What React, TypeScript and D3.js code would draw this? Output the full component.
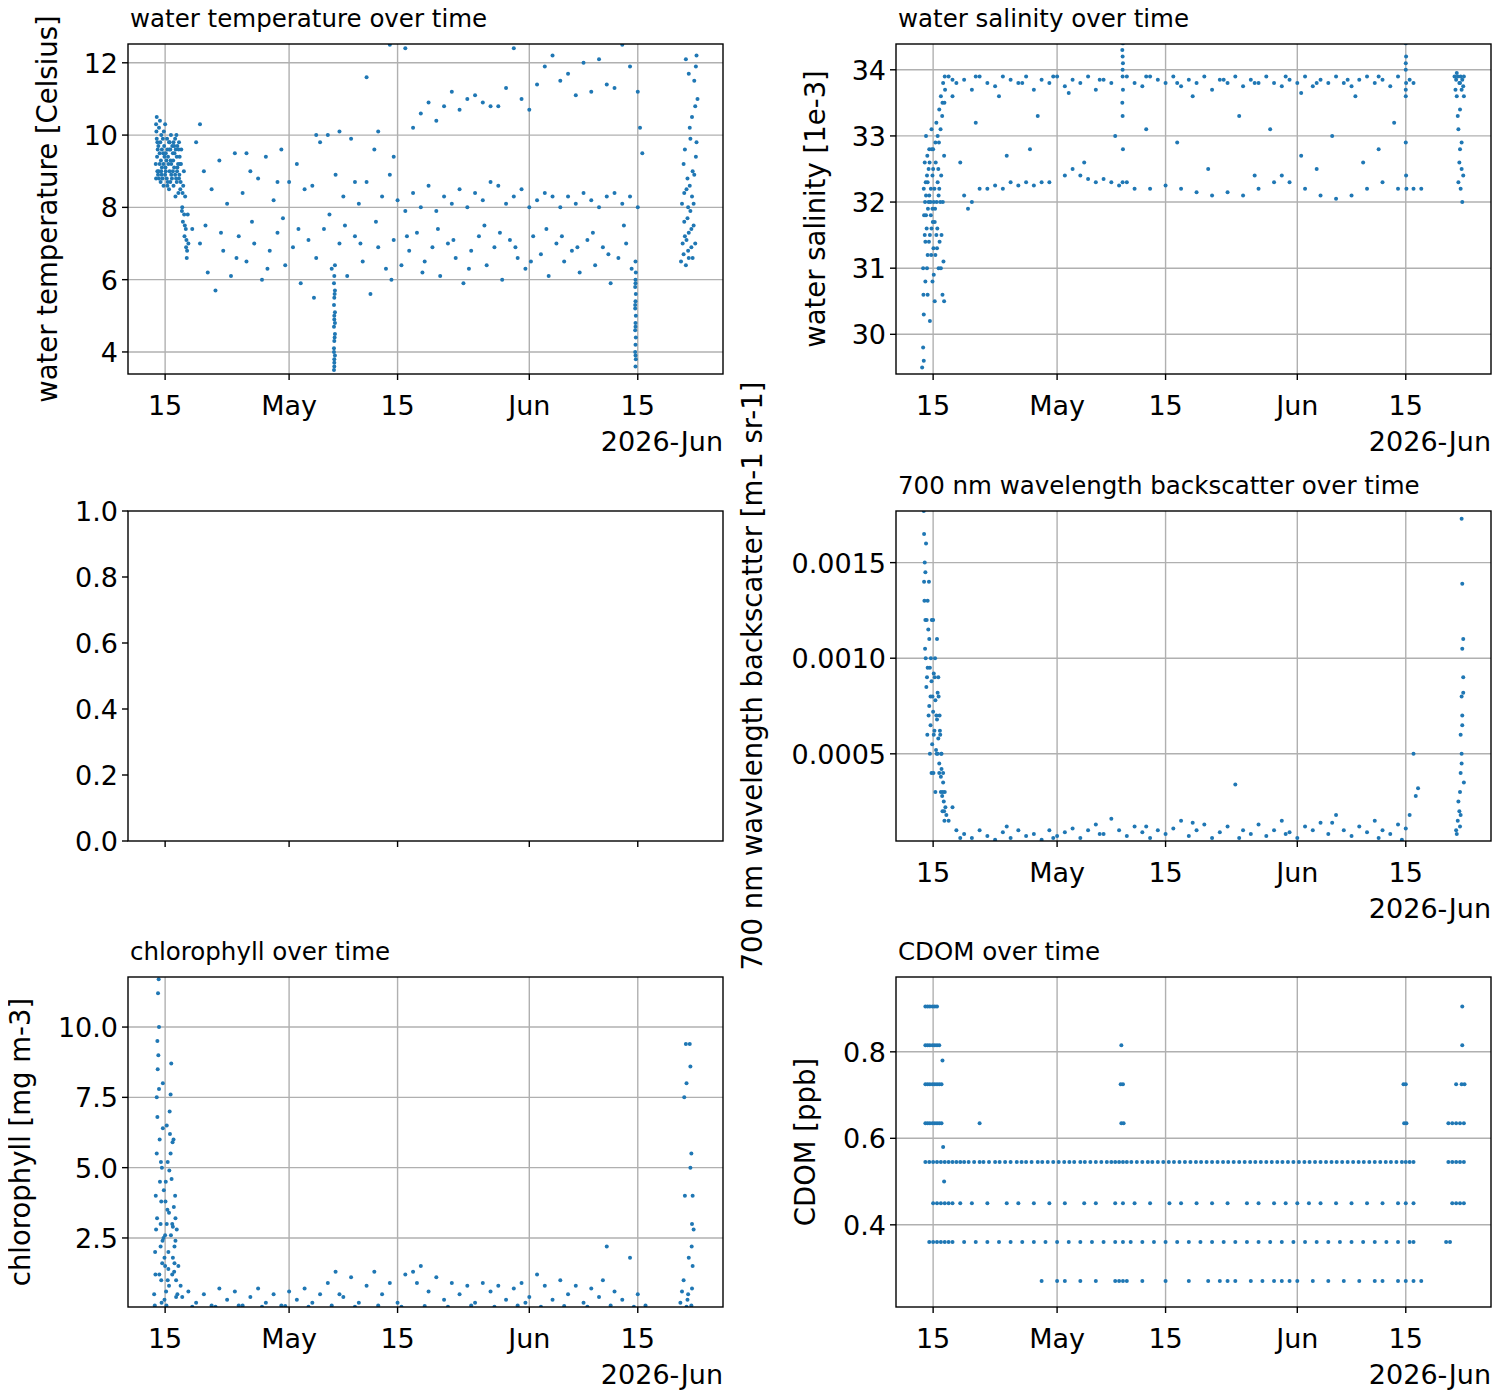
import React from "react";
import * as d3 from "d3";

type P = [number, number];
// x values: days since 2026-04-01
const tempCluster: P[] = [[12.8,9.2],[12.9,10.5],[13,9.8],[13.05,9.6],[13.1,8.9],[13.2,10.2],[13.3,9.5],[13.4,8.7],[13.45,9.3],[13.5,10.0],[13.6,9.1],[13.7,9.9],[13.8,8.6],[13.85,10.1],[13.9,9.4],[14,10.3],[14.1,9.0],[14.2,8.8],[14.25,9.9],[14.3,9.6],[14.4,9.2],[14.5,8.5],[14.6,9.8],[14.65,8.7],[14.7,9.3],[14.8,8.9],[14.9,9.7],[15,9.0],[15.05,9.3],[15.1,8.6],[15.2,9.5],[15.3,9.9],[15.4,8.8],[15.45,10.0],[15.5,9.4],[15.6,9.1],[15.7,8.4],[15.8,9.8],[15.85,8.9],[15.9,9.2],[16,8.7],[16.1,9.6],[16.2,8.0],[16.3,7.6],[16.4,9.0],[16.5,7.2],[16.6,8.3],[16.7,6.9],[16.8,6.6],[16.9,7.8],[17,7.0],[12.85,8.8],[13.15,9.0],[13.35,10.4],[13.55,8.9],[13.75,9.5],[14.05,9.1],[14.35,8.7],[14.55,9.6],[14.75,10.0],[15.15,9.7],[15.35,8.3],[15.55,9.0],[15.75,9.6],[15.95,8.5],[16.15,7.9],[16.35,8.6],[16.55,7.5],
  [12.82,10.3],[12.88,10.1],[12.92,9.9],[12.95,9.4],[13.02,9.0],[13.12,9.7],[13.22,8.8],[13.28,9.2],[13.38,9.8],[13.48,9.0],[13.58,9.6],[13.68,8.8],[13.78,9.2],[13.88,9.7],[13.98,8.9],[14.08,9.5],[14.18,9.3],[14.28,8.6],[14.38,9.4],[14.48,9.8],[14.58,9.0],[14.68,9.6],[14.78,9.2],[14.88,8.8],[14.98,9.5],[15.08,9.8],[15.18,9.1],[15.28,8.9],[15.38,9.6],[15.48,8.7],[15.58,9.7],[15.68,9.2],[15.78,8.8],[15.88,9.4],[16.05,9.2],[16.25,8.4],[16.45,7.8],[16.65,7.4],[16.75,7.1],[16.85,6.8]];
const tempUpper: P[] = [[18,9.8],[19,9.0],[20,8.5],[21,9.3],[22,8.1],[23,9.5],[24,8.4],[25,9.0],[26,8.8],[27,9.4],[28,8.2],[29,9.6],[30,8.7],[31,9.2],[32,8.5],[33,8.6],[34,9.8],[35,10.0],[36,8.9],[37,8.3],[38,9.9],[39,8.1],[40,8.7],[41,9.6],[42,8.3],[43,8.9],[44,8.2],[45,7.9],[46,8.4],[47,8.0],[48,8.6],[49,7.9],[50,8.3],[51,8.1],[52,8.5],[53,8.0],[54,8.4],[55,8.2],[56,8.7],[57,8.6],[58,8.1],[59,8.3],[60,8.5],[61,8.0],[62,8.2],[63,8.4],[64,8.3],[65,8.0],[66,8.3],[67,8.1],[68,8.4],[69,8.2],[70,8.0],[71,8.3],[72,8.4],[73,8.1],[74,8.3],[75,8.0],[18.5,10.3],[24.5,9.5],[28.5,8.7],[33.5,10.0],[36.5,10.1],[38.5,8.7]];
const tempLower: P[] = [[17.5,7.4],[18.5,7.0],[19.5,6.2],[20.5,5.7],[21.5,6.8],[22.5,6.1],[23.5,7.2],[24.5,6.5],[25.5,7.0],[26.5,6.0],[27.5,6.8],[28.5,7.3],[29.5,6.4],[30.5,6.9],[31.5,5.9],[32.5,7.1],[33.5,6.6],[34.5,7.4],[35.5,6.3],[36.5,7.0],[37.5,6.1],[38.5,7.2],[39.5,6.5],[40.5,5.6],[41.5,6.9],[42.5,6.3],[43.5,7.1],[44.5,6.4],[45.5,6.8],[46.5,7.3],[47.5,6.5],[48.5,6.9],[49.5,6.1],[50.5,7.0],[51.5,6.6],[52.5,5.9],[53.5,6.8],[54.5,7.2],[55.5,6.4],[56.5,6.9],[57.5,6.0],[58.5,7.1],[59.5,6.6],[60.5,6.3],[61.5,7.2],[62.5,6.7],[63.5,6.1],[64.5,7.0],[65.5,6.5],[66.5,6.8],[67.5,6.2],[68.5,7.1],[69.5,6.4],[70.5,6.9],[71.5,5.9],[72.5,6.6],[73.5,7.0],[74.2,6.3],[19.2,7.5],[21.2,7.3],[23.2,6.6],[25.2,7.6],[27.2,6.3],[29.2,7.7],[31.2,7.4],[33.2,5.5],[35.2,7.8],[37.2,7.5],[39.2,7.0],[41.2,7.6],[43.2,6.0],[45.2,7.2],[47.2,6.2],[49.2,7.4],[51.2,7.1],[53.2,6.3],[55.2,7.5],[57.2,7.3],[59.2,6.9],[61.2,6.5],[63.2,7.4],[65.2,7.2],[67.2,6.9],[69.2,7.3],[71.2,6.7],[73.2,7.5]];
const tempHigh: P[] = [[40,11.6],[43,12.5],[45,12.4],[46,10.2],[47,10.6],[48,10.9],[49,10.4],[50,10.8],[51,11.2],[52,10.7],[53,11.0],[54,11.1],[55,10.9],[56,10.8],[57,10.8],[58,11.3],[59,12.4],[60,11.0],[61,10.7],[62,11.4],[63,11.9],[64,12.2],[65,11.5],[66,11.7],[67,11.1],[68,12.0],[69,11.2],[70,12.1],[71,11.4],[72,11.3],[73,12.5],[74,11.9],[75,11.2],[43.5,9.4],[41.5,10.1]];
const tempStreaks: P[] = [[35.8,3.5],[35.85,3.7],[35.9,3.9],[35.8,4.1],[35.85,4.3],[35.9,4.5],[35.8,4.7],[35.85,4.9],[35.9,5.1],[35.8,5.3],[35.85,5.5],[35.9,5.7],[35.8,5.9],[35.85,6.1],[35.9,6.4],[35.85,3.6],[35.8,4.0],[35.9,4.8],[35.82,3.8],[35.88,4.4],[35.83,5.0],[35.87,5.6],[74.7,3.6],[74.75,3.8],[74.65,4.0],[74.7,4.2],[74.75,4.4],[74.65,4.6],[74.7,4.8],[74.75,5.0],[74.65,5.2],[74.7,5.4],[74.75,5.6],[74.65,5.8],[74.7,6.0],[74.75,6.2],[74.7,6.5],[74.7,3.9],[74.72,4.7],[74.68,5.3],[74.72,5.9],[75.3,10.2],[75.6,9.5]];
const tempFinal: P[] = [[80.6,6.5],[80.8,7.0],[81.0,7.6],[81.2,6.4],[80.7,8.1],[81.3,8.5],[81.5,6.8],[80.9,9.2],[81.6,7.3],[81.4,8.8],[81.8,7.9],[82.0,8.3],[81.1,9.6],[81.7,10.2],[82.1,9.0],[81.9,6.9],[82.2,7.5],[82.4,10.8],[82.3,11.5],[82.6,12.2],[82.5,11.9],[81.6,11.7],[81.2,12.1],[82.0,10.5],[82.5,9.4],[82.2,8.1],[80.9,6.7],[81.5,8.0],[82.4,7.0],[81.8,9.9],[82.7,11.0],[81.3,7.1],[82.1,6.6],[81.0,8.4],[82.6,9.8],[81.4,7.7],[81.7,8.6],[81.9,7.4],[82.3,8.9],[81.6,6.6],[81.1,7.2]];

const salCluster: P[] = [[12.6,29.5],[12.7,29.8],[12.8,30.3],[12.7,31.0],[12.9,31.5],[12.8,32.2],[12.9,32.6],[13,30.8],[13.1,31.8],[13.2,32.4],[13.1,33.0],[13.3,31.2],[13.4,32.0],[13.5,32.8],[13.3,30.6],[13.6,31.5],[13.7,32.2],[13.8,33.1],[13.9,31.9],[14,32.5],[14.1,30.9],[14.2,31.7],[14.3,32.9],[14.4,33.2],[14.5,31.3],[14.6,32.3],[14.7,31.0],[14.8,33.4],[14.9,32.0],[15,33.6],[15.1,31.5],[15.2,30.6],[15.3,33.8],[15.4,32.7],[15.5,33.9],[15.2,33.5],[12.8,29.6],[13.0,31.4],[13.2,31.0],[13.4,32.5],[13.6,30.2],[13.8,31.6],[14.0,32.8],[14.2,30.5],[14.4,31.5],[14.6,33.0],[14.8,32.2],[15.0,31.0],[15.4,30.5],[13.5,32.1],[13.9,32.4],[14.3,31.2],
  [12.75,30.6],[12.85,31.8],[12.95,32.0],[13.05,32.3],[13.15,31.6],[13.25,32.7],[13.35,31.9],[13.45,31.4],[13.55,32.6],[13.65,32.0],[13.75,31.2],[13.85,32.8],[13.95,31.7],[14.05,31.3],[14.15,32.2],[14.25,31.9],[14.35,32.6],[14.45,32.0],[14.55,31.6],[14.65,32.5],[14.75,32.9],[14.85,31.4],[14.95,33.1],[15.05,32.4],[15.15,33.3],[15.25,32.0],[15.35,31.1],[15.45,33.5],[15.55,33.7],[13.1,32.1],[13.7,31.8],[14.1,32.0],[14.7,32.1],[13.3,32.3],[13.9,30.8]];
const salUpper: P[] = [[16,33.9],[17,33.8],[18,33.85],[19,33.7],[20,33.9],[21,33.8],[22,33.75],[23,33.9],[24,33.85],[25,33.8],[26,33.9],[27,33.7],[28,33.85],[29,33.8],[30,33.9],[31,33.75],[32,33.85],[33,33.8],[34,33.9],[35,33.7],[36,33.85],[37,33.8],[39,33.9],[40,33.8],[41,33.75],[42,33.9],[43,33.85],[44,33.8],[45,33.9],[46,33.75],[47,33.85],[48,33.8],[49,33.9],[50,33.7],[51,33.85],[52,33.8],[53,33.9],[54,33.75],[55,33.85],[56,33.8],[57,33.9],[58,33.8],[59,33.75],[60,33.85],[61,33.8],[62,33.9],[63,33.75],[64,33.85],[65,33.8],[66,33.9],[67,33.8],[68,33.75],[69,33.85],[70,33.9],[71,33.8],[72,33.85],[73,33.75],[74,33.9],[76,33.8],[16.5,33.6],[22.5,33.6],[31.5,33.65],[47.5,33.6],[61.5,33.65],[68.5,33.6],[16.5,33.85],[19.5,33.9],[25.5,33.8],[29.5,33.9],[35.5,33.85],[41.5,33.9],[45.5,33.8],[51.5,33.85],[55.5,33.8],[59.5,33.9],[63.5,33.8],[67.5,33.85],[71.5,33.9],[75.5,33.85]];
const salLower: P[] = [[18,32.1],[18.5,31.9],[19,32.0],[20,32.2],[21,32.2],[22,32.25],[23,32.2],[24,32.3],[25,32.25],[26,32.3],[27,32.25],[28,32.3],[29,32.3],[31,32.4],[32,32.5],[33,32.4],[34,32.35],[35,32.3],[36,32.35],[37,32.3],[38,32.25],[39,32.3],[40,32.2],[42,32.2],[44,32.25],[46,32.2],[48,32.15],[50,32.1],[52,32.15],[54,32.1],[56,32.2],[58,32.3],[59,32.4],[60,32.3],[62,32.2],[64,32.1],[66,32.05],[68,32.1],[70,32.2],[72,32.3],[74,32.2],[76,32.2],[77,32.2],[19.5,33.2],[23.5,32.7],[27.5,33.3],[33.5,32.6],[37.5,33.0],[41.5,33.1],[45.5,32.9],[49.5,32.5],[53.5,33.3],[57.5,33.1],[61.5,32.7],[65.5,33.0],[69.5,32.6],[73.5,33.2],[17.5,32.6],[26.5,32.8],[55.5,32.4],[63.5,32.5],[71.5,32.8]];
const salSpikes: P[] = [[38.4,33.5],[38.5,33.7],[38.45,33.9],[38.5,34.1],[38.4,34.3],[38.5,34.4],[38.45,33.3],[38.5,32.8],[38.45,32.3],[38.45,34.0],[38.45,34.2],[75,33.6],[75.05,33.8],[75,34.0],[75.05,34.2],[75,34.4],[75,32.9],[75.05,32.4],[75.1,32.2],[75,33.7],[75.02,34.1]];
const salFinal: P[] = [[81.3,33.9],[81.5,33.85],[81.7,33.9],[81.9,33.8],[82.1,33.9],[82.3,33.85],[82.5,33.9],[81.6,33.6],[82.0,33.4],[81.8,33.1],[82.2,32.9],[81.9,32.6],[82.4,32.4],[82.1,32.2],[82.3,32.0],[81.7,33.3],[82.0,32.8],[82.5,33.6],[81.4,33.7],[82.2,33.7],[81.6,33.95],[82.0,33.8],[82.4,33.75],[81.8,32.3],[82.2,32.5]];

const bsCluster: P[] = [[12.8,0.00177],[12.9,0.0015],[13,0.0012],[13.1,0.0016],[13.2,0.0009],[13.3,0.0013],[13.4,0.0007],[13.5,0.0011],[13.6,0.0005],[13.7,0.0010],[13.8,0.0004],[13.9,0.0008],[14,0.0012],[14.1,0.0006],[14.2,0.0009],[14.3,0.0003],[14.4,0.0007],[14.5,0.0011],[14.6,0.0005],[14.7,0.0008],[14.8,0.0004],[14.9,0.0006],[15,0.0003],[15.1,0.0005],[15.2,0.0002],[15.3,0.0004],[15.4,0.0002],[15.5,0.0003],[12.85,0.0014],[13.05,0.0010],[13.25,0.0006],[13.45,0.0014],[13.65,0.0008],[13.85,0.0012],[14.05,0.0004],[14.25,0.0010],[14.45,0.0005],[14.65,0.0009],[14.85,0.0007],[15.05,0.0005],[15.25,0.0003],[15.45,0.00015],[16,0.00015],[16.5,0.00022],
  [12.82,0.00165],[12.88,0.0013],[12.95,0.00105],[13.02,0.00145],[13.12,0.00085],[13.18,0.0012],[13.28,0.00095],[13.38,0.00115],[13.48,0.00075],[13.58,0.00095],[13.68,0.00065],[13.78,0.00088],[13.88,0.00055],[13.98,0.00072],[14.08,0.00092],[14.18,0.00062],[14.28,0.00078],[14.38,0.00052],[14.48,0.00068],[14.58,0.00082],[14.68,0.00058],[14.78,0.00045],[14.88,0.00062],[14.98,0.00038],[15.08,0.00042],[15.18,0.00028],[15.28,0.00035],[15.38,0.00025],[15.58,0.00022],[15.7,0.00018]];
const bsLow: P[] = [[17,0.0001],[18,0.00008],[19,0.00006],[20,0.0001],[21,0.00007],[22,0.00005],[23,0.00009],[24,0.00006],[25,0.0001],[26,0.00007],[27,0.00008],[28,0.00005],[29,0.0001],[30,0.00007],[31,0.00009],[32,0.00011],[33,0.00006],[34,0.0001],[35,0.00013],[36,0.00008],[37,0.00016],[38,0.0001],[39,0.00007],[40,0.00012],[41,0.00009],[42,0.00006],[43,0.0001],[44,0.00008],[45,0.00011],[46,0.00015],[47,0.00007],[48,0.0001],[49,0.00013],[50,0.00006],[51,0.00009],[52,0.00012],[53,0.00034],[54,0.0001],[55,0.00008],[56,0.00013],[57,0.00007],[58,0.0001],[59,0.00015],[60,0.00009],[61,0.00006],[62,0.00012],[63,0.0001],[64,0.00014],[65,0.00008],[66,0.00018],[67,0.0001],[68,0.00007],[69,0.00012],[70,0.00009],[71,0.00015],[72,0.0001],[73,0.00008],[74,0.00013],[75,0.00011],[75.5,0.00018],[76,0.0005],[76.3,0.00028],[76.6,0.00032],[17.5,0.00006],[23.5,0.00012],[29.5,0.00006],[35.5,0.00008],[41.5,0.00012],[47.5,0.00014],[53.5,0.00006],[59.5,0.00008],[65.5,0.00014],[71.5,0.00006],[74.5,0.00005]];
const bsFinal: P[] = [[81.5,0.0001],[81.7,0.00015],[81.9,0.0002],[82.0,0.0003],[82.1,0.0004],[82.2,0.0005],[82.1,0.0006],[82.3,0.0007],[82.2,0.0008],[82.4,0.0009],[82.3,0.00105],[82.4,0.0011],[82.3,0.00139],[82.2,0.00173],[81.8,0.00025],[82.0,0.00012],[82.5,0.00035],[81.6,0.00008],[82.1,0.00018],[82.3,0.00065],[82.2,0.00045],[82.4,0.00082]];

const chlCluster: P[] = [[12.6,0.5],[12.7,2.0],[12.8,4.0],[12.9,7.5],[13,9.5],[13.1,11.2],[13.2,10.0],[13.3,6.0],[13.4,3.0],[13.5,1.0],[13.6,5.0],[13.7,8.0],[13.8,2.5],[13.9,0.3],[14,1.5],[14.1,4.5],[14.2,6.5],[14.3,3.5],[14.4,2.0],[14.5,0.8],[14.6,7.0],[14.7,5.5],[14.8,8.7],[14.9,3.0],[15,1.8],[15.1,6.0],[15.2,2.2],[15.3,4.0],[15.4,1.0],[15.5,2.8],[15.6,0.5],[15.7,1.5],[16,0.8],[16.2,0.4],[13.15,11.7],[13.05,8.5],[12.95,3.2],[13.25,1.2],[13.45,5.2],[13.65,2.4],[14.05,3.8],[14.35,1.0],[14.55,4.9],[14.75,2.6],[14.95,5.9],[15.15,1.3],[15.35,3.2],[12.65,0.1],[13.55,0.2],[14.15,0.1],
  [12.75,1.2],[12.85,2.8],[12.92,5.5],[13.02,6.8],[13.12,9.0],[13.22,7.8],[13.32,4.5],[13.42,2.2],[13.52,3.8],[13.62,1.6],[13.72,6.4],[13.82,4.2],[13.92,1.8],[14.02,2.6],[14.12,0.6],[14.22,3.0],[14.32,5.2],[14.42,1.4],[14.52,3.4],[14.62,6.2],[14.72,7.6],[14.82,4.6],[14.92,1.2],[15.02,2.9],[15.12,3.6],[15.22,1.6],[15.32,2.4],[15.42,0.4]];
const chlLow: P[] = [[17,0.6],[18,0.2],[19,0.5],[20,0.1],[21,0.7],[22,0.3],[23,0.6],[24,0.1],[25,0.4],[26,0.7],[27,0.2],[28,0.5],[29,0.1],[30,0.6],[31,0.3],[32,0.7],[33,0.2],[34,0.5],[35,0.9],[36,1.3],[37,0.4],[38,1.1],[39,0.2],[40,0.8],[41,1.3],[42,0.5],[43,0.9],[44,0.2],[45,1.2],[46,1.3],[47,1.5],[48,0.6],[49,1.1],[50,0.3],[51,0.9],[52,0.5],[53,0.8],[54,0.2],[55,0.9],[56,0.6],[57,0.8],[58,0.3],[59,0.7],[60,0.9],[61,0.4],[62,1.2],[63,0.8],[64,0.3],[65,1.0],[66,0.5],[67,0.8],[68,0.2],[69,0.7],[70,0.4],[71,2.2],[72,0.6],[73,0.3],[74,1.8],[75,0.5],[76,0.1],[17.5,0.05],[20.5,0.05],[23.5,0.1],[26.5,0.05],[29.5,0.08],[32.5,0.05],[35.5,0.1],[38.5,0.05],[41.5,0.1],[44.5,0.05],[47.5,0.08],[50.5,0.05],[53.5,0.1],[56.5,0.05],[59.5,0.1],[62.5,0.05],[65.5,0.08],[68.5,0.05],[71.5,0.1],[74.5,0.05],[36.5,0.5],[46.5,0.9],[60.5,0.2],[70.5,1.0]];
const chlFinal: P[] = [[80.5,0.2],[80.7,0.6],[80.9,1.0],[81.0,7.5],[81.1,4.0],[81.3,8.0],[81.2,9.4],[81.5,0.5],[81.7,9.4],[81.8,8.6],[81.9,5.5],[81.8,5.0],[82.0,3.0],[82.1,4.0],[81.95,2.2],[82.1,1.5],[82.0,0.7],[81.6,1.8],[81.4,0.3],[82.2,2.8],[81.9,0.1],[81.3,0.05]];

const cdomLevels = [0.27, 0.36, 0.45, 0.545, 0.635, 0.725, 0.815, 0.905];
const cdomEarly: P[] = [[13,0.905],[13.3,0.905],[13.6,0.905],[13.9,0.905],[14.2,0.905],[14.5,0.905],[13,0.815],[13.3,0.815],[13.6,0.815],[13.9,0.815],[14.2,0.815],[14.5,0.815],[14.8,0.815],[13,0.725],[13.3,0.725],[13.6,0.725],[13.9,0.725],[14.2,0.725],[14.5,0.725],[14.8,0.725],[15.1,0.725],[13,0.635],[13.3,0.635],[13.6,0.635],[13.9,0.635],[14.2,0.635],[14.5,0.635],[14.8,0.635],[15.1,0.635],[15.3,0.58],[15.4,0.5],[15.2,0.78],[13.5,0.36],[14,0.36],[14.5,0.36],[15,0.36],[15.5,0.36],[16,0.36],[14,0.45],[14.5,0.45],[15,0.45],[15.5,0.45],[16,0.45],[20,0.635],[38.3,0.815],[38.2,0.725],[38.5,0.725],[38.3,0.635],[38.6,0.635],[74.7,0.725],[75,0.725],[74.8,0.635],[75.1,0.635],[80.5,0.635],[81,0.635],[81.5,0.635],[82,0.635],[82.5,0.635],[81.5,0.725],[82.2,0.725],[82.6,0.725],[82.3,0.815],[82.3,0.905]];
const cdom545Days = [13,13.5,14,14.5,15,15.5,16,16.5,17,17.5,18,18.6,19.3,20,20.5,21.2,22,22.6,23.3,24,24.8,25.4,26,26.7,27.5,28.1,28.8,29.5,30.2,30.9,31.6,32.2,33,33.6,34.3,35,35.7,36.4,37,37.5,38,38.5,39,39.6,40.3,41,41.7,42.3,43,43.7,44.4,45.1,45.8,46.5,47.2,47.9,48.6,49.3,50,50.7,51.4,52.1,52.8,53.5,54.2,54.9,55.6,56.3,57,57.7,58.4,59.1,59.8,60.5,61.2,61.9,62.6,63.3,64,64.7,65.4,66.1,66.8,67.5,68.2,68.9,69.6,70.3,71,71.7,72.4,73.1,73.8,74.5,75,75.5,76,80.5,81,81.5,82,82.5];
const cdom45Days = [16.5,17.5,19,21,23.5,25,27,29,31,33.5,35,37.5,38.5,40,42,44.5,46,48,50,52,54.5,56,58,59.5,61,62.5,64,66,68,70,72,74,75,76,81,81.5,82,82.5];
const cdom36Days = [16.5,18,19.5,21,22.5,24,25.5,27,28.5,30,31.5,33,34.5,36,37.5,38.5,39.5,41,42.5,44,45.5,47,48.5,50,51.5,53,54.5,56,57.5,59,60.5,62,63.5,65,66.5,68,69.5,71,72.5,74,75.5,76,80.2,80.7];
const cdom27Days = [28,30,31,33,35,37.5,38,38.5,39,41,44,47,49.5,51,52,53,55,56.5,58,59,60,61,63,65,67,69,71,72,74,75,76,77];

const X_DOMAIN: [Date, Date] = [new Date(2026, 3, 10, 5), new Date(2026, 5, 26, 0)];
const TICK_DATES = [new Date(2026, 3, 15), new Date(2026, 4, 1), new Date(2026, 4, 15), new Date(2026, 5, 1), new Date(2026, 5, 15)];
const TICK_LABELS = ["15", "May", "15", "Jun", "15"];
const dayToDate = (d: number) => new Date(2026, 3, 1 + Math.floor(d), Math.round((d % 1) * 24));

const BLUE = "#1f77b4";
const FONT = "DejaVu Sans, sans-serif";
const FS = 27;

type PanelProps = {
  x0: number; y0: number; title?: string; ylabel?: string; yDomain: [number, number];
  yTicks: number[]; yFmt: (v: number) => string; data: P[]; xLabels: boolean; id: string;
  ylabelX?: number; ylabelY?: number;
};

function Panel({ x0, y0, title, ylabel, yDomain, yTicks, yFmt, data, xLabels, id, ylabelX, ylabelY }: PanelProps) {
  const W = 595, H = 330;
  const x = d3.scaleTime().domain(X_DOMAIN).range([x0, x0 + W]);
  const y = d3.scaleLinear().domain(yDomain).range([y0 + H, y0]);
  return (
    <g fontFamily={FONT}>
      <defs><clipPath id={id}><rect x={x0} y={y0} width={W} height={H} /></clipPath></defs>
      {xLabels && TICK_DATES.map((t, i) => <line key={"gx" + i} x1={x(t)} x2={x(t)} y1={y0} y2={y0 + H} stroke="#b0b0b0" strokeWidth={1.4} />)}
      {xLabels && yTicks.map((t, i) => <line key={"gy" + i} x1={x0} x2={x0 + W} y1={y(t)} y2={y(t)} stroke="#b0b0b0" strokeWidth={1.4} />)}
      <g clipPath={`url(#${id})`}>
        {data.map((p, i) => <circle key={i} cx={x(dayToDate(p[0]))} cy={y(p[1])} r={2} fill={BLUE} />)}
      </g>
      <rect x={x0} y={y0} width={W} height={H} fill="none" stroke="black" strokeWidth={1.4} />
      {TICK_DATES.map((t, i) => (
        <g key={"xt" + i}>
          <line x1={x(t)} x2={x(t)} y1={y0 + H} y2={y0 + H + 6} stroke="black" strokeWidth={1.4} />
          {xLabels && <text x={x(t)} y={y0 + H + 41} textAnchor="middle" fontSize={FS}>{TICK_LABELS[i]}</text>}
        </g>
      ))}
      {xLabels && <text x={x0 + W} y={y0 + H + 77} textAnchor="end" fontSize={FS}>2026-Jun</text>}
      {yTicks.map((t, i) => (
        <g key={"yt" + i}>
          <line x1={x0 - 6} x2={x0} y1={y(t)} y2={y(t)} stroke="black" strokeWidth={1.4} />
          <text x={x0 - 10} y={y(t) + 10} textAnchor="end" fontSize={FS}>{yFmt(t)}</text>
        </g>
      ))}
      {title && <text x={x0 + 2} y={y0 - 17} fontSize={24.5}>{title}</text>}
      {ylabel && (
        <text transform={`translate(${ylabelX ?? x0 - 75},${ylabelY ?? y0 + H / 2}) rotate(-90)`} textAnchor="middle" fontSize={27.5}>{ylabel}</text>
      )}
    </g>
  );
}

export default function App() {
  const temp = [...tempCluster, ...tempUpper, ...tempLower, ...tempHigh, ...tempStreaks, ...tempFinal];
  const sal = [...salCluster, ...salUpper, ...salLower, ...salSpikes, ...salFinal];
  const bs = [...bsCluster, ...bsLow, ...bsFinal];
  const chl = [...chlCluster, ...chlLow, ...chlFinal];
  const cdom: P[] = [
    ...cdomEarly,
    ...cdom545Days.map((d) => [d, cdomLevels[3]] as P),
    ...cdom45Days.map((d) => [d, cdomLevels[2]] as P),
    ...cdom36Days.map((d) => [d, cdomLevels[1]] as P),
    ...cdom27Days.map((d) => [d, cdomLevels[0]] as P),
  ];
  const f1 = (v: number) => v.toFixed(1);
  return (
    <svg width={1500} height={1400} style={{ display: "block", margin: -8 }}>
      <rect width={1500} height={1400} fill="white" />
      <Panel id="c1" x0={128} y0={44} title="water temperature over time" ylabel="water temperature [Celsius]" ylabelX={57}
        yDomain={[3.39, 12.52]} yTicks={[4, 6, 8, 10, 12]} yFmt={(v) => String(v)} data={temp} xLabels />
      <Panel id="c2" x0={896} y0={44} title="water salinity over time" ylabel="water salinity [1e-3]" ylabelX={825}
        yDomain={[29.4, 34.39]} yTicks={[30, 31, 32, 33, 34]} yFmt={(v) => String(v)} data={sal} xLabels />
      <Panel id="c3" x0={128} y0={511} yDomain={[0, 1]} yTicks={[0, 0.2, 0.4, 0.6, 0.8, 1.0]} yFmt={f1} data={[]} xLabels={false} />
      <Panel id="c4" x0={896} y0={511} title="700 nm wavelength backscatter over time" ylabel="700 nm wavelength backscatter [m-1 sr-1]"
        ylabelX={762} ylabelY={676} yDomain={[0.000044, 0.00177]} yTicks={[0.0005, 0.001, 0.0015]} yFmt={(v) => v.toFixed(4)} data={bs} xLabels />
      <Panel id="c5" x0={128} y0={977} title="chlorophyll over time" ylabel="chlorophyll [mg m-3]" ylabelX={30}
        yDomain={[0.045, 11.78]} yTicks={[2.5, 5, 7.5, 10]} yFmt={f1} data={chl} xLabels />
      <Panel id="c6" x0={896} y0={977} title="CDOM over time" ylabel="CDOM [ppb]" ylabelX={815}
        yDomain={[0.21, 0.973]} yTicks={[0.4, 0.6, 0.8]} yFmt={f1} data={cdom} xLabels />
    </svg>
  );
}
